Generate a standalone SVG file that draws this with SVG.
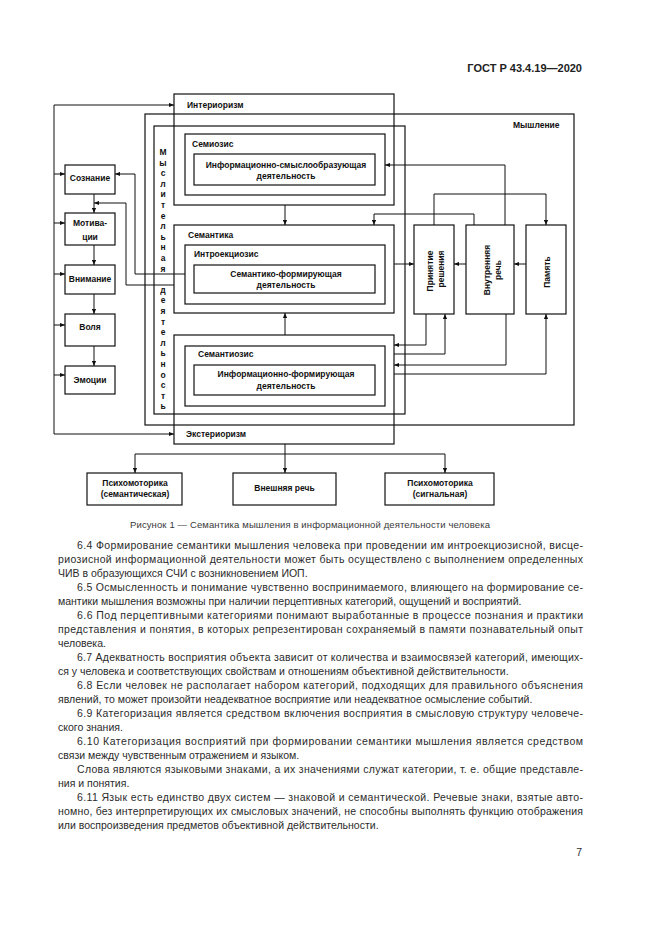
<svg xmlns="http://www.w3.org/2000/svg" width="661" height="935" viewBox="0 0 661 935">
<style>
.box{fill:none;stroke:#111;stroke-width:1.2}
.ln{fill:none;stroke:#111;stroke-width:1;marker-end:url(#ah)}
.pl{fill:none;stroke:#111;stroke-width:1}
.lb{font-family:"Liberation Sans",Arial,sans-serif;font-weight:bold;font-size:8.5px;fill:#111}
.c{text-anchor:middle}
.body{font-family:"Liberation Sans",Arial,sans-serif;font-size:10.5px;fill:#2b2b2b}
.cap{font-family:"Liberation Sans",Arial,sans-serif;font-size:9.5px;fill:#3a3a3a}
</style>
<defs>
<marker id="ah" viewBox="0 0 6 6" refX="6" refY="3" markerWidth="5" markerHeight="5" markerUnits="userSpaceOnUse" orient="auto">
<path d="M0,0.5 L6,3 L0,5.5 z" fill="#111"/>
</marker>
</defs>
<rect x="0" y="0" width="661" height="935" fill="#fff"/>

<text x="582" y="72" font-family="Liberation Sans,Arial,sans-serif" font-weight="bold" font-size="11" text-anchor="end" fill="#222">ГОСТ Р 43.4.19—2020</text>

<g id="myshlenie">
<rect class="box" x="145" y="114" width="429" height="311"/>
<text class="lb" x="513" y="128">Мышление</text>
</g>
<g id="myslitelnaya">
<rect class="box" x="154" y="126" width="251" height="288"/>
<text class="lb c" x="163" y="155">
<tspan x="163" y="155">М</tspan><tspan x="163" y="165.6">ы</tspan><tspan x="163" y="176.2">с</tspan><tspan x="163" y="186.8">л</tspan><tspan x="163" y="197.4">и</tspan><tspan x="163" y="208">т</tspan><tspan x="163" y="218.6">е</tspan><tspan x="163" y="229.2">л</tspan><tspan x="163" y="239.8">ь</tspan><tspan x="163" y="250.4">н</tspan><tspan x="163" y="261">а</tspan><tspan x="163" y="271.6">я</tspan><tspan x="163" y="292.8">д</tspan><tspan x="163" y="303.4">е</tspan><tspan x="163" y="314">я</tspan><tspan x="163" y="324.6">т</tspan><tspan x="163" y="335.2">е</tspan><tspan x="163" y="345.8">л</tspan><tspan x="163" y="356.4">ь</tspan><tspan x="163" y="367">н</tspan><tspan x="163" y="377.6">о</tspan><tspan x="163" y="388.2">с</tspan><tspan x="163" y="398.8">т</tspan><tspan x="163" y="409.4">ь</tspan>
</text>
</g>
<g id="interiorizm">
<rect class="box" x="174" y="94" width="220" height="111"/>
<text class="lb" x="187" y="108">Интериоризм</text>
</g>
<g id="semiozis">
<rect class="box" x="185" y="134" width="200" height="61"/>
<text class="lb" x="192" y="147">Семиозис</text>
</g>
<g id="info-smysl">
<rect class="box" x="194" y="154" width="181" height="31"/>
<text class="lb c" x="286" y="168">Информационно-смыслообразующая</text>
<text class="lb c" x="286" y="179">деятельность</text>
</g>
<g id="semantika">
<rect class="box" x="174" y="225" width="220" height="88"/>
<text class="lb" x="188" y="238">Семантика</text>
</g>
<g id="introekciozis">
<rect class="box" x="185" y="245" width="200" height="59"/>
<text class="lb" x="194" y="257">Интроекциозис</text>
</g>
<g id="sem-form">
<rect class="box" x="194" y="265" width="181" height="28"/>
<text class="lb c" x="286" y="277">Семантико-формирующая</text>
<text class="lb c" x="286" y="288">деятельность</text>
</g>
<g id="eksteriorizm">
<rect class="box" x="174" y="335" width="220" height="109"/>
<text class="lb" x="186" y="437">Экстериоризм</text>
</g>
<g id="semantiozis">
<rect class="box" x="185" y="346" width="200" height="60"/>
<text class="lb" x="198" y="357">Семантиозис</text>
</g>
<g id="info-form">
<rect class="box" x="194" y="365" width="181" height="30"/>
<text class="lb c" x="286" y="377">Информационно-формирующая</text>
<text class="lb c" x="286" y="389">деятельность</text>
</g>

<g id="soznanie">
<rect class="box" x="65" y="165" width="50" height="29"/>
<text class="lb c" x="90" y="181">Сознание</text>
</g>
<g id="motivacii">
<rect class="box" x="65" y="213" width="50" height="32"/>
<text class="lb c" x="90" y="226">Мотива-</text>
<text class="lb c" x="90" y="240">ции</text>
</g>
<g id="vnimanie">
<rect class="box" x="65" y="265" width="50" height="29"/>
<text class="lb c" x="90" y="282">Внимание</text>
</g>
<g id="volya">
<rect class="box" x="65" y="314" width="50" height="32"/>
<text class="lb c" x="90" y="330">Воля</text>
</g>
<g id="emocii">
<rect class="box" x="65" y="366" width="50" height="28"/>
<text class="lb c" x="90" y="383">Эмоции</text>
</g>

<g id="prinyatie">
<rect class="box" x="414" y="225" width="40" height="89"/>
<text class="lb c" transform="translate(433,271) rotate(-90)">Принятие</text>
<text class="lb c" transform="translate(444,269) rotate(-90)">решения</text>
</g>
<g id="vnutrennyaya">
<rect class="box" x="466" y="225" width="48" height="89"/>
<text class="lb c" transform="translate(490,270) rotate(-90)">Внутренняя</text>
<text class="lb c" transform="translate(501,270) rotate(-90)">речь</text>
</g>
<g id="pamyat">
<rect class="box" x="526" y="225" width="40" height="89"/>
<text class="lb c" transform="translate(550,272) rotate(-90)">Память</text>
</g>

<g id="psiho-sem">
<rect class="box" x="87" y="473" width="95" height="32"/>
<text class="lb c" x="135" y="486">Психомоторика</text>
<text class="lb c" x="135" y="497">(семантическая)</text>
</g>
<g id="vneshnyaya">
<rect class="box" x="233" y="473" width="103" height="32"/>
<text class="lb c" x="284.5" y="491">Внешняя речь</text>
</g>
<g id="psiho-sig">
<rect class="box" x="385" y="473" width="109" height="32"/>
<text class="lb c" x="440" y="486">Психомоторика</text>
<text class="lb c" x="440" y="497">(сигнальная)</text>
</g>

<g id="connectors">
<path class="ln" d="M54,270 V105 H174"/>
<path class="ln" d="M54,270 V434 H174"/>
<path class="ln" d="M54,174 H65"/>
<path class="ln" d="M54,223 H65"/>
<path class="ln" d="M54,274 H65"/>
<path class="ln" d="M54,325 H65"/>
<path class="ln" d="M54,375 H65"/>
<path class="ln" d="M94,194 V213"/>
<path class="ln" d="M94,245 V265"/>
<path class="ln" d="M94,294 V314"/>
<path class="ln" d="M94,346 V366"/>
<path class="ln" d="M185,274 H135 V174 H115"/>
<path class="ln" d="M174,285 H126 V203 H94"/>
<path class="ln" d="M285,205 V225"/>
<path class="ln" d="M285,335 V313"/>
<path class="ln" d="M505,225 V165 H385"/>
<path class="ln" d="M474,225 V214 H374 V225"/>
<path class="ln" d="M434,225 V194 H546 V225"/>
<path class="ln" d="M394,264 H414"/>
<path class="ln" d="M466,264 H454"/>
<path class="ln" d="M526,264 H514"/>
<path class="ln" d="M426,314 V345 H394"/>
<path class="ln" d="M394,354 H445 V314"/>
<path class="ln" d="M506,314 V365 H394"/>
<path class="ln" d="M394,374 H546 V314"/>
<path class="ln" d="M285,444 V473"/>
<path class="ln" d="M285,454 H135 V473"/>
<path class="ln" d="M285,454 H445 V473"/>
</g>

<text class="cap" x="130" y="528" textLength="360" lengthAdjust="spacing">Рисунок 1 — Семантика мышления в информационной деятельности человека</text>

<g class="body">
<text x="77" y="549" textLength="506" lengthAdjust="spacing">6.4 Формирование семантики мышления человека при проведении им интроекциозисной, висце-</text>
<text x="58" y="563" textLength="525" lengthAdjust="spacing">риозисной информационной деятельности может быть осуществлено с выполнением определенных</text>
<text x="58" y="577">ЧИВ в образующихся СЧИ с возникновением ИОП.</text>
<text x="77" y="591" textLength="506" lengthAdjust="spacing">6.5 Осмысленность и понимание чувственно воспринимаемого, влияющего на формирование се-</text>
<text x="58" y="605">мантики мышления возможны при наличии перцептивных категорий, ощущений и восприятий.</text>
<text x="77" y="619" textLength="506" lengthAdjust="spacing">6.6 Под перцептивными категориями понимают выработанные в процессе познания и практики</text>
<text x="58" y="633" textLength="525" lengthAdjust="spacing">представления и понятия, в которых репрезентирован сохраняемый в памяти познавательный опыт</text>
<text x="58" y="647">человека.</text>
<text x="77" y="661" textLength="506" lengthAdjust="spacing">6.7 Адекватность восприятия объекта зависит от количества и взаимосвязей категорий, имеющих-</text>
<text x="58" y="675">ся у человека и соответствующих свойствам и отношениям объективной действительности.</text>
<text x="77" y="689" textLength="506" lengthAdjust="spacing">6.8 Если человек не располагает набором категорий, подходящих для правильного объяснения</text>
<text x="58" y="703">явлений, то может произойти неадекватное восприятие или неадекватное осмысление событий.</text>
<text x="77" y="717" textLength="506" lengthAdjust="spacing">6.9 Категоризация является средством включения восприятия в смысловую структуру человече-</text>
<text x="58" y="731">ского знания.</text>
<text x="77" y="745" textLength="506" lengthAdjust="spacing">6.10 Категоризация восприятий при формировании семантики мышления является средством</text>
<text x="58" y="759">связи между чувственным отражением и языком.</text>
<text x="77" y="773" textLength="506" lengthAdjust="spacing">Слова являются языковыми знаками, а их значениями служат категории, т. е. общие представле-</text>
<text x="58" y="787">ния и понятия.</text>
<text x="77" y="801" textLength="506" lengthAdjust="spacing">6.11 Язык есть единство двух систем — знаковой и семантической. Речевые знаки, взятые авто-</text>
<text x="58" y="815" textLength="525" lengthAdjust="spacing">номно, без интерпретирующих их смысловых значений, не способны выполнять функцию отображения</text>
<text x="58" y="829">или воспроизведения предметов объективной действительности.</text>
<text x="582" y="856" text-anchor="end">7</text>
</g>
</svg>
